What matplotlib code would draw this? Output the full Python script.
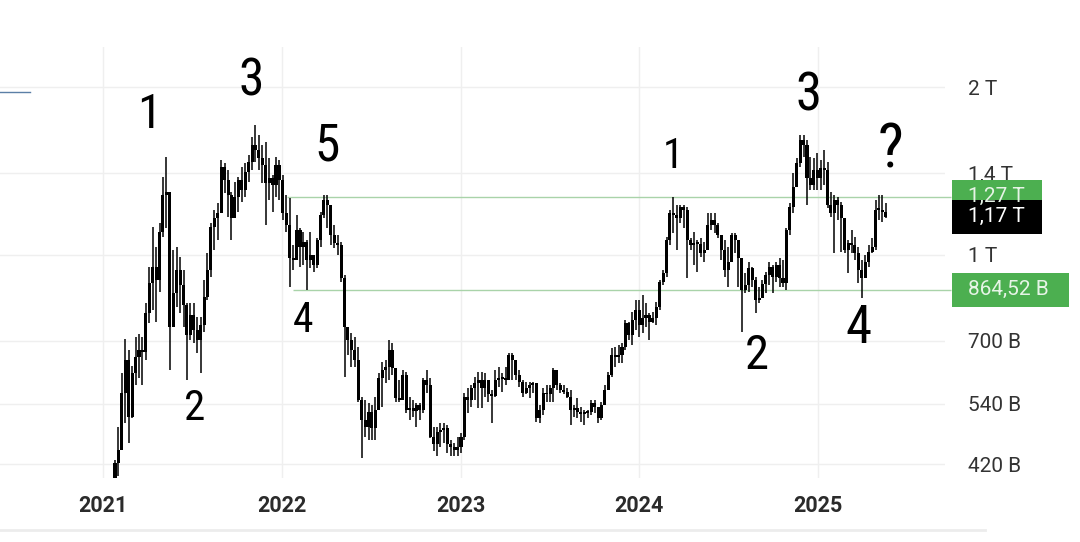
import matplotlib
matplotlib.use("Agg")
import matplotlib.pyplot as plt
import matplotlib.dates as mdates
import matplotlib.transforms as mtransforms
from matplotlib.patches import Rectangle
from matplotlib.lines import Line2D
from matplotlib.ticker import NullLocator
from matplotlib import font_manager
import numpy as np
import pandas as pd

# weekly candles, values in billions
first_open = 395
closes = [
    423, 446, 565, 647, 511, 613, 655, 674, 669, 786,
    889, 950, 900, 1098, 1281, 1296, 742, 854, 938, 882,
    813, 717, 780, 732, 703, 748, 840, 938, 1121, 1164,
    1189, 1437, 1362, 1281, 1164, 1270, 1362, 1307, 1407, 1467,
    1573, 1541, 1491, 1449, 1346, 1373, 1335, 1449, 1362, 1189,
    1131, 986, 978, 1107, 1032, 1053, 978, 999, 958, 1062,
    1179, 1254, 1229, 1085, 1049, 1040, 908, 742, 703, 674,
    647, 548, 505, 491, 522, 489, 526, 601, 621, 629,
    674, 626, 553, 548, 608, 526, 531, 524, 537, 526,
    596, 584, 471, 456, 480, 484, 489, 456, 452, 446,
    452, 471, 556, 548, 577, 589, 596, 577, 596, 561,
    558, 596, 598, 601, 596, 661, 647, 608, 591, 565,
    577, 584, 589, 509, 526, 565, 561, 577, 621, 584,
    572, 567, 556, 526, 531, 522, 518, 520, 522, 542,
    533, 509, 537, 572, 608, 661, 655, 661, 682, 754,
    717, 763, 796, 748, 770, 780, 757, 770, 806, 893,
    927, 1062, 1189, 1179, 1164, 1219, 1203, 1062, 1040, 1049,
    1045, 1007, 1019, 1131, 1154, 1131, 1085, 1019, 938, 970,
    1085, 1062, 986, 864, 882, 946, 900, 829, 836, 886,
    919, 950, 911, 958, 908, 889, 1107, 1219, 1324, 1461,
    1606, 1573, 1373, 1335, 1419, 1373, 1431, 1419, 1229, 1189,
    1254, 1229, 1164, 1019, 1049, 1040, 1007, 938, 908, 970,
    1011, 1032, 1203, 1203, 1194, 1170,
]
highs = [
    428, 491, 613, 706, 674, 632, 711, 720, 711, 819,
    950, 1121, 1032, 1140, 1379, 1497, 1296, 1019, 1032, 990,
    938, 819, 819, 819, 773, 773, 900, 1007, 1140, 1203,
    1239, 1479, 1461, 1419, 1296, 1351, 1379, 1437, 1461, 1510,
    1626, 1710, 1640, 1573, 1593, 1491, 1390, 1497, 1479, 1390,
    1281, 1265, 1040, 1179, 1117, 1098, 1062, 1098, 999, 1071,
    1194, 1281, 1281, 1154, 1131, 1085, 1053, 919, 742, 723,
    711, 682, 556, 548, 542, 537, 556, 613, 642, 647,
    703, 694, 621, 596, 621, 616, 556, 548, 542, 542,
    601, 621, 601, 491, 491, 499, 499, 495, 465, 459,
    471, 478, 565, 577, 584, 603, 616, 616, 613, 596,
    572, 621, 629, 613, 629, 666, 666, 642, 621, 596,
    591, 591, 591, 589, 537, 577, 584, 584, 626, 601,
    589, 584, 577, 572, 537, 553, 533, 526, 526, 548,
    548, 531, 544, 584, 616, 680, 682, 688, 694, 763,
    757, 790, 829, 829, 847, 819, 786, 790, 823, 900,
    938, 1075, 1203, 1270, 1229, 1229, 1229, 1219, 1071, 1098,
    1062, 1071, 1053, 1189, 1189, 1189, 1140, 1049, 1062, 1032,
    1094, 1094, 1062, 927, 927, 970, 950, 911, 875, 900,
    930, 970, 958, 970, 986, 978, 1117, 1239, 1402, 1491,
    1640, 1640, 1606, 1497, 1491, 1522, 1479, 1541, 1467, 1296,
    1281, 1270, 1244, 1107, 1062, 1107, 1075, 1032, 978, 999,
    1040, 1071, 1254, 1281, 1281, 1239,
]
lows = [
    390, 400, 446, 499, 459, 509, 584, 601, 584, 647,
    754, 796, 757, 857, 1075, 1117, 621, 742, 806, 786,
    742, 596, 703, 694, 666, 613, 726, 829, 911, 1019,
    1062, 1189, 1291, 1169, 1062, 1179, 1194, 1244, 1270, 1351,
    1419, 1467, 1419, 1346, 1131, 1254, 1194, 1270, 1254, 1154,
    1098, 875, 938, 986, 950, 958, 864, 946, 930, 946,
    1032, 1164, 1117, 1040, 1028, 999, 893, 603, 661, 629,
    629, 544, 432, 471, 465, 465, 465, 526, 533, 589,
    596, 608, 544, 544, 565, 520, 505, 511, 491, 505,
    520, 565, 469, 443, 434, 452, 459, 441, 434, 434,
    434, 441, 465, 520, 533, 548, 531, 531, 556, 544,
    499, 556, 579, 567, 584, 601, 596, 596, 579, 556,
    561, 553, 565, 501, 499, 516, 544, 544, 544, 572,
    565, 561, 553, 495, 511, 509, 501, 495, 509, 516,
    520, 499, 505, 537, 572, 603, 629, 639, 639, 674,
    703, 688, 732, 711, 723, 742, 703, 754, 748, 796,
    882, 911, 1040, 1094, 1019, 1140, 1117, 908, 1019, 958,
    930, 990, 970, 1028, 1107, 1094, 1071, 978, 911, 875,
    990, 1007, 875, 726, 854, 857, 875, 786, 819, 840,
    854, 882, 854, 893, 875, 875, 864, 1085, 1189, 1324,
    1437, 1497, 1229, 1307, 1307, 1307, 1307, 1335, 1214, 1169,
    1007, 1154, 1011, 1007, 927, 1007, 978, 889, 836, 911,
    950, 1007, 1019, 1154, 1145, 1164,
]
dates = pd.date_range("2021-01-25", periods=len(closes), freq="7D")

tick_values = [420, 540, 700, 1000, 1400, 2000]
tick_labels = ["420 B", "540 B", "700 B", "1 T", "1,4 T", "2 T"]
years = ["2021", "2022", "2023", "2024", "2025"]

level_high = 1270
level_low = 864.52
last_price = 1170
level_high_start = "2022-01-12"
level_low_start = "2022-01-24"

wave_labels = ["1", "2", "3", "4", "5", "1", "2", "3", "4", "?"]
wave_dates = ["2021-04-05", "2021-07-06", "2021-10-30", "2022-02-14", "2022-04-04",
              "2024-03-11", "2024-08-28", "2024-12-12", "2025-03-24", "2025-05-29"]
wave_values = [1781, 530, 2042, 763, 1561, 1498, 658, 1927, 738, 1541]
wave_sizes = [35, 31, 37, 30, 37, 30, 35, 38, 38, 44]

# narrow face for the hand-drawn style wave numbers, if one is around
installed = {f.name for f in font_manager.fontManager.ttflist}
wave_font = [f for f in ["Liberation Sans Narrow", "Roboto Condensed", "Roboto"] if f in installed]
if not wave_font:
    wave_font = ["DejaVu Sans"]

fig = plt.figure(figsize=(10.8, 5.42), dpi=100)
fig.patch.set_facecolor("white")
ax = fig.add_axes([0, 1 - 478 / 542, 945 / 1080, (478 - 47) / 542])

# candles
opens = np.array([first_open] + closes[:-1], dtype=float)
c = np.array(closes, dtype=float)
body_bot = np.minimum(opens, c)
body_top = np.maximum(np.maximum(opens, c), body_bot * 1.007)
ax.bar(dates, body_top - body_bot, bottom=body_bot, width=6.2,
       color="black", linewidth=0, zorder=3)
ax.vlines(dates, np.minimum(lows, body_bot), np.maximum(highs, body_top),
          color="black", linewidth=1.1, zorder=3)

ax.set_yscale("log")
ax.set_ylim(397, 2360)
ax.set_xlim(pd.Timestamp("2020-06-04"), pd.Timestamp("2025-09-17"))

ax.set_yticks(tick_values)
ax.set_yticklabels(tick_labels)
ax.yaxis.set_minor_locator(NullLocator())
ax.yaxis.tick_right()
ax.tick_params(axis="y", length=0, pad=16.5, labelsize=15, labelcolor="#333333")
for lab in ax.get_yticklabels():
    lab.set_fontfamily("Roboto")

ax.set_xticks([pd.Timestamp(y + "-01-01") for y in years])
ax.set_xticklabels(years, fontfamily="Roboto", fontweight="bold",
                   fontsize=15.5, color="#2b2b2b")
ax.tick_params(axis="x", length=0, pad=12)

ax.grid(True, color="#efefef", linewidth=1, zorder=0)
for s in ax.spines.values():
    s.set_visible(False)

# support / resistance rays
x_end = pd.Timestamp("2025-09-30")
ax.hlines(level_high, pd.Timestamp(level_high_start), x_end, color="#a9d3a9",
          linewidth=1, zorder=2, clip_on=False)
ax.hlines(level_low, pd.Timestamp(level_low_start), x_end, color="#a9d3a9",
          linewidth=1, zorder=2, clip_on=False)

# wave counts
for lab, d, v, fs in zip(wave_labels, wave_dates, wave_values, wave_sizes):
    ax.text(pd.Timestamp(d), v, lab, ha="center", va="center", fontsize=fs,
            family=wave_font, color="black", zorder=5)

# price tags on the right axis
def tag(value, text, width, face, txt_color):
    xd = mdates.date2num(pd.Timestamp("2023-01-01"))
    ypx = ax.transData.transform((xd, value))[1]
    ident = mtransforms.IdentityTransform()
    fig.add_artist(Rectangle((952, ypx - 17), width, 34, transform=ident,
                             facecolor=face, edgecolor="none", zorder=4))
    fig.text(968, ypx, text, transform=ident, ha="left", va="center",
             fontsize=15, family="Roboto", color=txt_color, zorder=5)

tag(level_high, "1,27 T", 90, "#4caf50", "#e6f4e6")
tag(last_price, "1,17 T", 90, "#000000", "#ffffff")
tag(level_low, "864,52 B", 117, "#4caf50", "#e6f4e6")

# leftover bits of the app frame
fig.add_artist(Line2D([0, 30], [542 - 92, 542 - 92], transform=mtransforms.IdentityTransform(),
                      color="#5b7fa6", linewidth=1))
fig.add_artist(Line2D([0, 985], [542 - 530, 542 - 530], transform=mtransforms.IdentityTransform(),
                      color="#ececec", linewidth=2))

fig.savefig("out.png", dpi=100, facecolor="white")
